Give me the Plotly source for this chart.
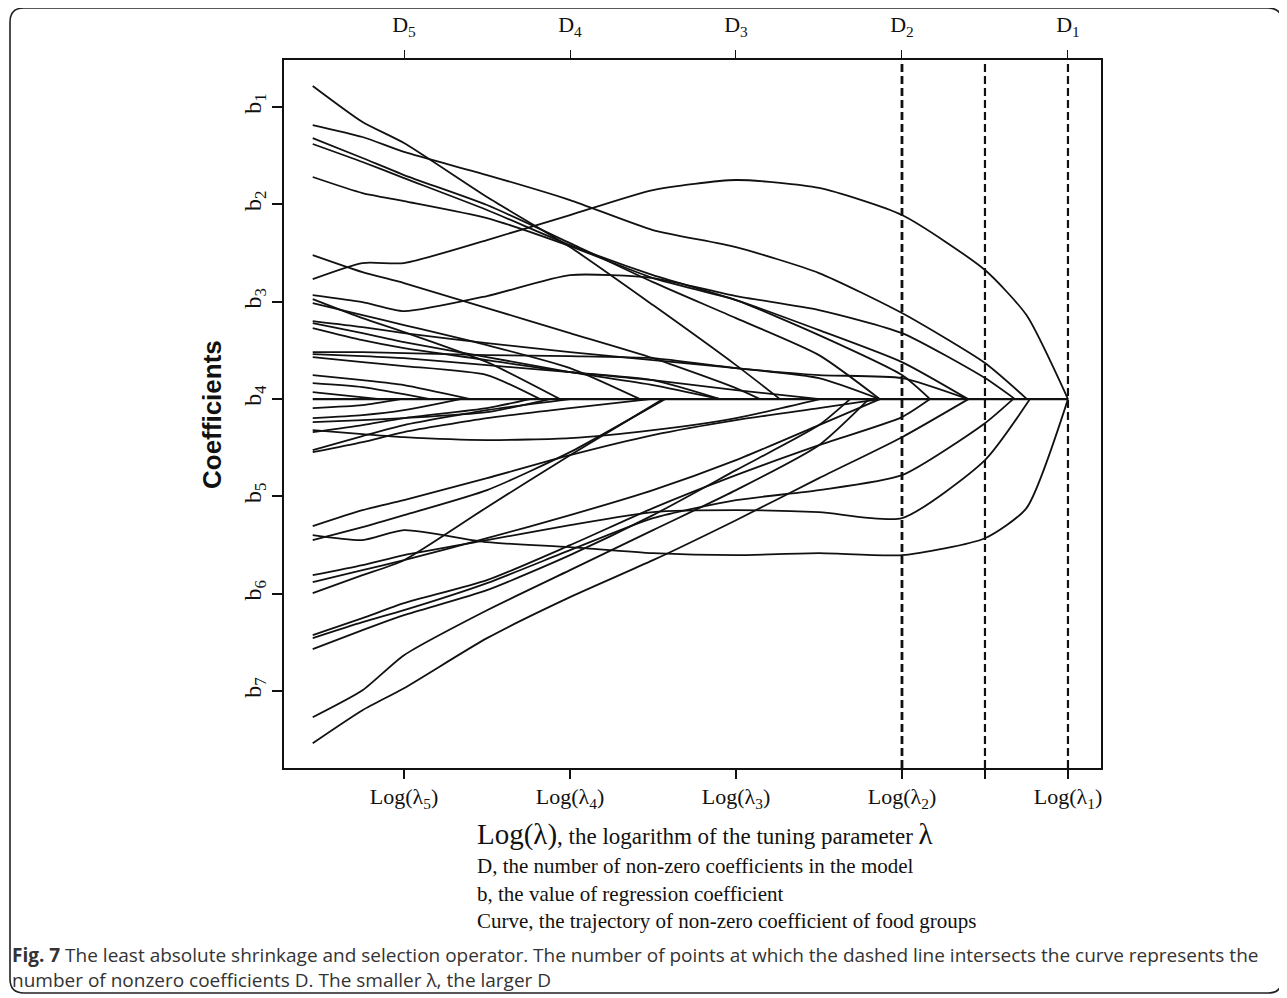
import plotly.graph_objects as go

# ---------------- data ----------------
# x: log(lambda) in units where Log(lambda1)=0, Log(lambda2)=-1, ... ; y: coefficient in b-units (b4 = 0)
grid_log_lambda = [-4.55, -4.25, -4.0, -3.5, -3.0, -2.5, -2.0, -1.5, -1.0, -0.5, -0.25]

upper_paths = [
    [3.217, 2.847, 2.631, 2.076, 1.562, 0.966, 0.349],
    [2.816, 2.693, 2.539, 2.302, 2.045, 1.737, 1.562, 1.295, 0.884, 0.370],
    [2.682, 2.477, 2.302, 1.994, 1.603, 1.202, 0.832, 0.452],
    [2.621, 2.436, 2.271, 1.943, 1.583, 1.274, 1.017, 0.658, 0.247],
    [2.282, 2.117, 2.035, 1.860, 1.572, 1.244, 1.017, 0.709, 0.380],
    [1.480, 1.305, 1.192, 0.935, 0.678, 0.421, 0.113],
    [1.233, 1.398, 1.398, 1.634, 1.891, 2.148, 2.251, 2.169, 1.891, 1.326, 0.863],
    [1.069, 0.997, 0.904, 1.059, 1.274, 1.244, 1.059, 0.915, 0.678, 0.216],
    [1.028, 0.832, 0.689, 0.380],
    [0.987, 0.863, 0.761, 0.555, 0.319],
    [0.802, 0.740, 0.678, 0.576, 0.483, 0.401, 0.319, 0.216],
    [0.781, 0.678, 0.586, 0.432, 0.277, 0.144],
    [0.730, 0.606, 0.524, 0.401, 0.277, 0.195, 0.092],
    [0.483, 0.483, 0.473, 0.452, 0.442, 0.421, 0.319, 0.247, 0.216],
    [0.462, 0.442, 0.421, 0.349, 0.277, 0.195],
    [0.432, 0.380, 0.339, 0.247],
    [0.247, 0.195, 0.144],
    [0.164, 0.123],
    [0.072],
]
upper_zero_entry = [-1.735, -0.247, -1.133, -0.831, -0.602, -1.855, 0.0, -0.319,
                    -3.06, -2.578, -1.133, -2.096, -1.494, -0.602, -2.096, -3.18,
                    -3.60, -3.843, -4.145]

lower_paths = [
    [-0.092, -0.062],
    [-0.195, -0.164, -0.113],
    [-0.236, -0.216, -0.195, -0.134],
    [-0.319, -0.360, -0.391, -0.421, -0.401, -0.319, -0.195],
    [-0.339, -0.267, -0.195, -0.092],
    [-0.524, -0.380, -0.267, -0.113],
    [-0.545, -0.442, -0.339, -0.195, -0.092],
    [-1.398, -1.449, -1.346, -1.470, -1.521, -1.583, -1.603, -1.583, -1.603, -1.429, -1.120],
    [-1.305, -1.141, -1.038, -0.812, -0.576, -0.370, -0.216, -0.092],
    [-1.449, -1.316, -1.192, -0.935, -0.545],
    [-1.809, -1.706, -1.603, -1.449, -1.295, -1.161, -1.141, -1.161, -1.223, -0.627],
    [-1.881, -1.757, -1.655, -1.429, -1.192, -0.935, -0.627, -0.267],
    [-1.994, -1.809, -1.655, -1.110, -0.576],
    [-2.425, -2.251, -2.097, -1.860, -1.501, -1.120, -0.781, -0.473, -0.185],
    [-2.456, -2.292, -2.169, -1.891, -1.552, -1.223, -1.038, -0.935, -0.781, -0.247],
    [-2.569, -2.374, -2.220, -1.963, -1.603, -1.192, -0.730, -0.267],
    [-3.535, -3.196, -2.970, -2.456, -2.035, -1.655, -1.244, -0.812, -0.391],
    [-3.268, -2.991, -2.631, -2.169, -1.757, -1.346, -0.935, -0.473],
]
lower_zero_entry = [-4.02, -3.66, -3.12, -1.494, -3.24, -3.0, -2.518, 0.0, -1.133,
                    -2.428, -0.229, -1.133, -2.44, -0.831, -0.331, -1.313, -0.60, -1.20]

lambda_ticks = [-4, -3, -2, -1, 0]
top_tick_labels = ["D<sub>5</sub>", "D<sub>4</sub>", "D<sub>3</sub>", "D<sub>2</sub>", "D<sub>1</sub>"]
bottom_tick_vals = [-4, -3, -2, -1, -0.5, 0]
bottom_tick_labels = ["Log(λ<sub>5</sub>)", "Log(λ<sub>4</sub>)", "Log(λ<sub>3</sub>)",
                      "Log(λ<sub>2</sub>)", "", "Log(λ<sub>1</sub>)"]
coef_ticks = [3, 2, 1, 0, -1, -2, -3]
coef_tick_labels = ["b<sub>1</sub>", "b<sub>2</sub>", "b<sub>3</sub>", "b<sub>4</sub>",
                    "b<sub>5</sub>", "b<sub>6</sub>", "b<sub>7</sub>"]
dashed_lambdas = [-1.0, -0.5, 0.0]
dashed_widths = [2.8, 2.2, 2.2]

legend_lines = [
    "<span style='font-size:29px'>Log(λ)</span>, the logarithm of the tuning parameter <span style='font-size:29px'>λ</span>",
    "D, the number of non-zero coefficients in the model",
    "b, the value of regression coefficient",
    "Curve, the trajectory of non-zero coefficient of food groups",
]
legend_sizes = [23, 21, 21, 21]
caption_text = ("<b>Fig. 7</b> The least absolute shrinkage and selection operator. The number of points at which "
                "the dashed line intersects the curve represents the<br>"
                "number of nonzero coefficients D. The smaller λ, the larger D")

# ---------------- layout geometry (reference page pixels; page has an 8px body margin) ----------------
OFF = 8
W, H = 1287 - OFF, 998 - OFF
PL, PR, PT, PB = 284 - OFF, 1101 - OFF, 60 - OFF, 768 - OFF
X_RANGE = [-4.723, 0.199]
Y_RANGE = [-3.79, 3.484]


def fx(px):
    return (px - OFF - PL) / (PR - PL)


def fy(py):
    return (PB - (py - OFF)) / (PB - PT)


fig = go.Figure()

LINE = dict(color="#111111", width=1.8)
for vals, z in zip(upper_paths + lower_paths, upper_zero_entry + lower_zero_entry):
    xs = grid_log_lambda[:len(vals)] + [z]
    ys = vals + [0.0]
    fig.add_trace(go.Scatter(x=xs, y=ys, mode="lines", line=dict(shape="spline", smoothing=0.6, **LINE),
                             hoverinfo="skip", showlegend=False))

# the zero (b4) line shared by coefficients that have been shrunk to zero
fig.add_trace(go.Scatter(x=[grid_log_lambda[0], 0.0], y=[0.0, 0.0], mode="lines",
                         line=dict(color="#111111", width=2.2), xaxis="x2",
                         hoverinfo="skip", showlegend=False))

for xv, wv in zip(dashed_lambdas, dashed_widths):
    fig.add_shape(type="line", xref="x", yref="paper", x0=xv, x1=xv, y0=0, y1=1,
                  line=dict(color="#111111", width=wv, dash="8px,4px"))

TICKFONT = dict(family="Liberation Serif", size=22, color="#111111")

fig.update_layout(
    width=W, height=H,
    margin=dict(l=PL, r=W - PR, t=PT, b=H - PB, autoexpand=False),
    paper_bgcolor="white", plot_bgcolor="white",
    xaxis=dict(range=X_RANGE, tickvals=bottom_tick_vals, ticktext=bottom_tick_labels,
               ticks="outside", ticklen=9, tickwidth=1.5, tickcolor="#111",
               showline=True, linecolor="#111", linewidth=1.6, mirror=True, automargin=False,
               showgrid=False, zeroline=False, tickfont=TICKFONT, ticklabelstandoff=-1),
    xaxis2=dict(range=X_RANGE, overlaying="x", side="top", anchor="y",
                tickvals=lambda_ticks, ticktext=top_tick_labels, automargin=False,
                ticks="outside", ticklen=9, tickwidth=1.2, tickcolor="#111",
                showline=False, showgrid=False, zeroline=False, tickfont=TICKFONT,
                ticklabelstandoff=9),
    yaxis=dict(range=Y_RANGE, tickvals=coef_ticks, ticktext=coef_tick_labels, tickangle=-90,
               ticks="outside", ticklen=10, tickwidth=1.5, tickcolor="#111", automargin=False,
               showline=True, linecolor="#111", linewidth=1.6, mirror=True,
               showgrid=False, zeroline=False, ticklabelstandoff=2,
               tickfont=dict(family="Liberation Serif", size=24, color="#111111")),
)

annotations = []
annotations.append(dict(xref="paper", yref="paper", x=fx(212), y=fy(415), text="<b>Coefficients</b>",
                        textangle=-90, showarrow=False, xanchor="center", yanchor="middle",
                        font=dict(family="Liberation Sans", size=26, color="#111")))
for txt, py, sz in zip(legend_lines, [834, 866, 894, 921], legend_sizes):
    annotations.append(dict(xref="paper", yref="paper", x=fx(475), y=fy(py), text=txt,
                            showarrow=False, xanchor="left", yanchor="middle",
                            font=dict(family="Liberation Serif", size=sz, color="#111")))
annotations.append(dict(xref="paper", yref="paper", x=fx(10), y=fy(967), text=caption_text,
                        showarrow=False, xanchor="left", yanchor="middle", align="left",
                        font=dict(family="Open Sans", size=19, color="#333")))
fig.update_layout(annotations=annotations)

# rounded outer frame
x0, x1, y0, y1, r = 10, 1282, 8, 993, 14
rx, ry = r / (PR - PL), r / (PB - PT)
X0, X1, Y0, Y1 = fx(x0), fx(x1), fy(y0), fy(y1)
path = (f"M {X0 + rx},{Y0} L {X1 - rx},{Y0} Q {X1},{Y0} {X1},{Y0 - ry} "
        f"L {X1},{Y1 + ry} Q {X1},{Y1} {X1 - rx},{Y1} L {X0 + rx},{Y1} Q {X0},{Y1} {X0},{Y1 + ry} "
        f"L {X0},{Y0 - ry} Q {X0},{Y0} {X0 + rx},{Y0} Z")
fig.add_shape(type="path", xref="paper", yref="paper", path=path, line=dict(color="#222", width=1.6))

fig.write_html("out.html")
